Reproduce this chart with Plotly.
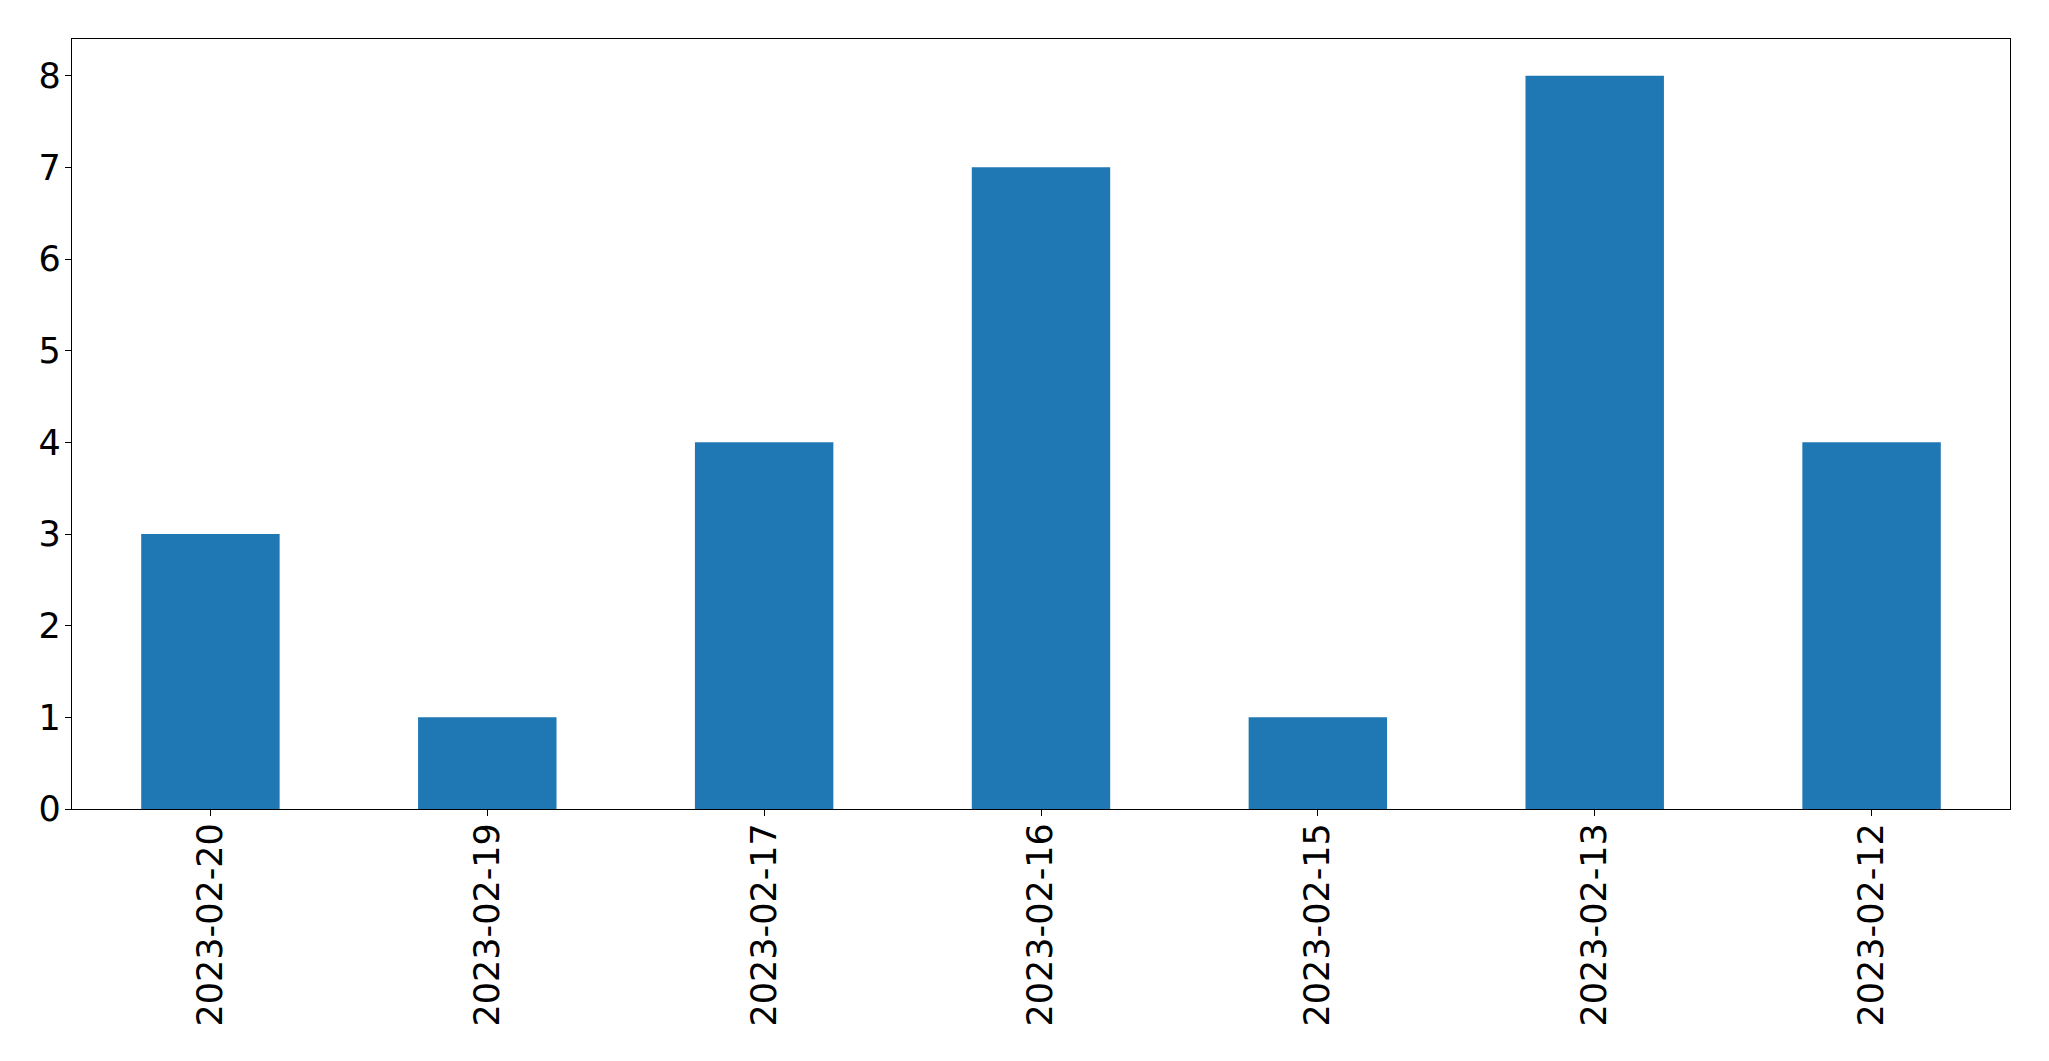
import plotly.graph_objects as go

dates = ["2023-02-20", "2023-02-19", "2023-02-17", "2023-02-16", "2023-02-15", "2023-02-13", "2023-02-12"]
counts = [3, 1, 4, 7, 1, 8, 4]
y_ticks = [0, 1, 2, 3, 4, 5, 6, 7, 8]

fig = go.Figure(go.Bar(x=dates, y=counts, marker=dict(color="#1f77b4", line=dict(width=0)), width=0.5))

axis_common = dict(
    showline=True, linecolor="black", linewidth=1.3, mirror=True,
    ticks="outside", ticklen=6, tickwidth=1.3, tickcolor="black",
    showgrid=False, zeroline=False,
    tickfont=dict(family="DejaVu Sans", size=35, color="black"),
)

fig.update_layout(
    width=2041, height=1053,
    margin=dict(l=64, r=39, t=31, b=252),
    plot_bgcolor="white", paper_bgcolor="white",
    showlegend=False,
    xaxis=dict(type="category", range=[-0.5, 6.5], tickangle=-90, ticklabelstandoff=-7, **axis_common),
    yaxis=dict(range=[0, 8.4], tickvals=y_ticks, ticklabelstandoff=-3, **axis_common),
)

fig.write_html("out.html")
